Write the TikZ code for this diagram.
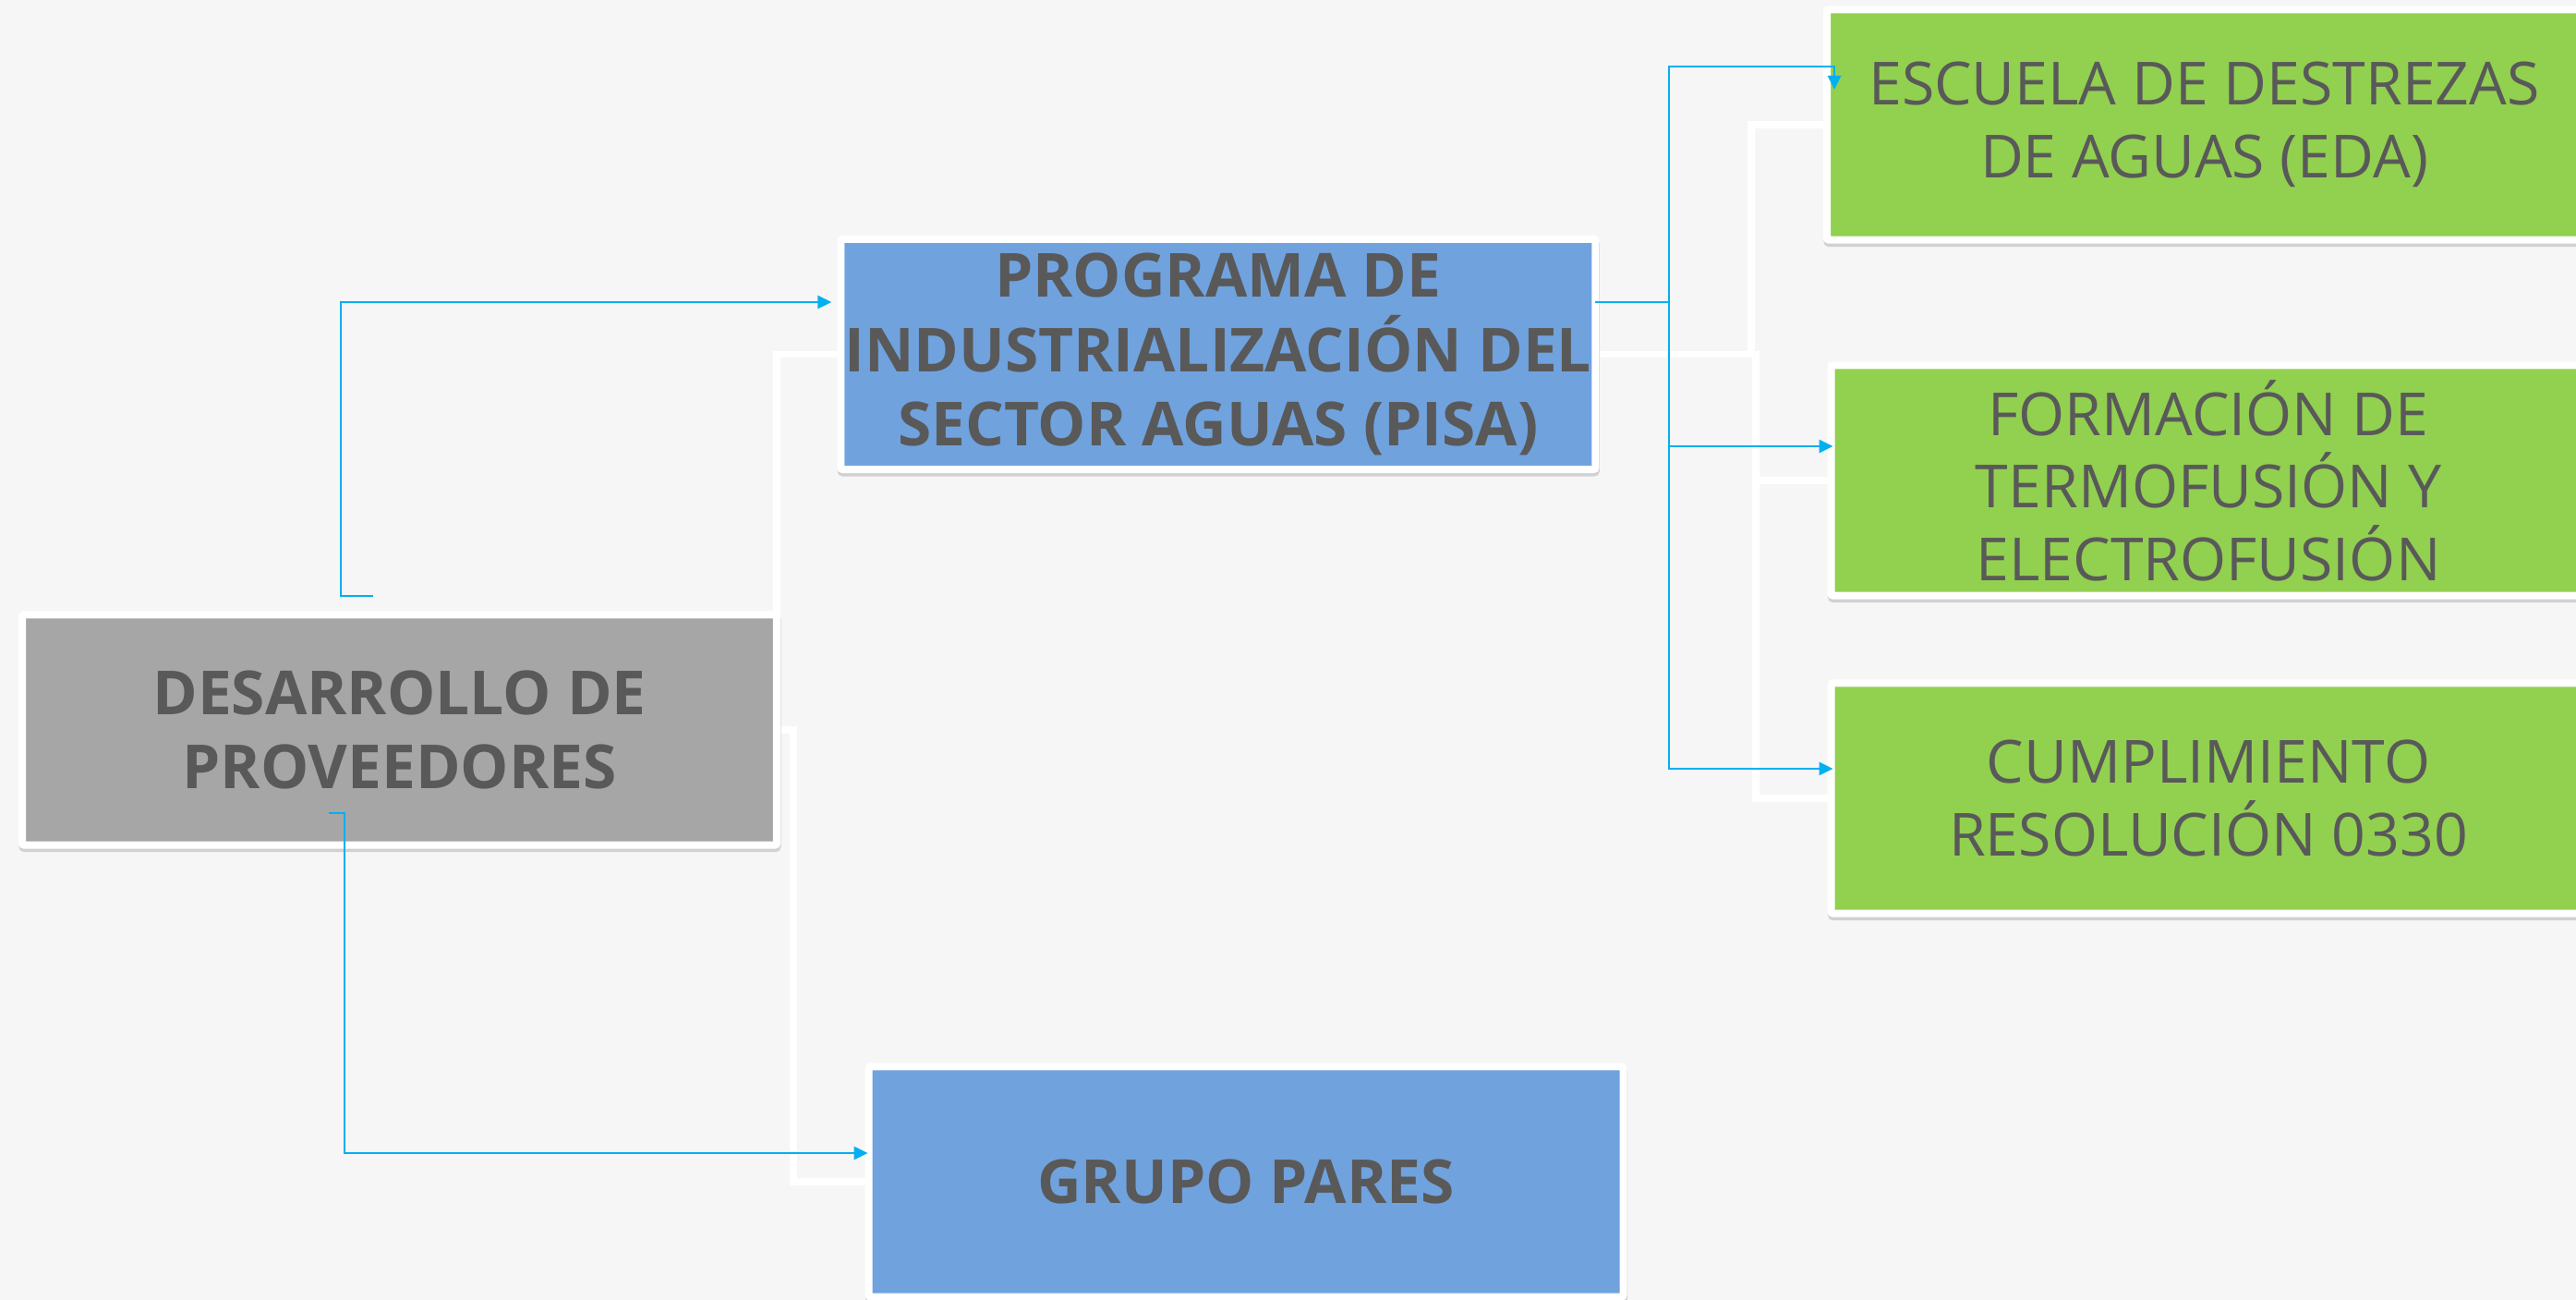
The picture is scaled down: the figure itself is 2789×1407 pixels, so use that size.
\documentclass[tikz,border=0pt]{standalone}
\usepackage{fontspec}
\setmainfont{Open Sans}
\usetikzlibrary{arrows.meta,shadows}
\definecolor{bgc}{HTML}{F6F6F6}
\definecolor{grayf}{HTML}{A6A6A6}
\definecolor{bluef}{HTML}{70A2DE}
\definecolor{greenf}{HTML}{92D050}
\definecolor{txt}{HTML}{595959}
\definecolor{connc}{HTML}{00B0F0}
\pgfdeclarelayer{bgfill}
\pgfdeclarelayer{wl}
\pgfsetlayers{bgfill,wl,main}
\begin{document}
\begin{tikzpicture}[x=0.01cm,y=-0.01cm,
 box/.style={draw=white, line width=0.08cm, rounded corners=0.02cm, outer sep=0pt, inner sep=0pt,
   align=center, text=txt, minimum width=8.165cm, minimum height=2.49cm,
   general shadow={fill=black!18, draw=black!18, line width=0.08cm, shadow yshift=-0.035cm, shadow xshift=0.005cm}},
 boldtxt/.style={font=\fontsize{18.7}{22.8}\selectfont\bfseries},
 regtxt/.style={font=\fontsize{18.3}{22.3}\selectfont},
 wline/.style={draw=white, line width=0.075cm},
 cline/.style={draw=connc, line width=0.025cm, -{Triangle[length=0.15cm,width=0.14cm]}},
 cstub/.style={draw=connc, line width=0.025cm}
]
\useasboundingbox (0,0) rectangle (2789,1407);
\clip (0,0) rectangle (2789,1407);
\begin{pgfonlayer}{bgfill}
\fill[bgc] (0,0) rectangle (2789,1407);
\end{pgfonlayer}

\node[box, fill=grayf, boldtxt] (dev) at (432.5,790) {DESARROLLO DE\\PROVEEDORES};
\node[box, fill=bluef, boldtxt] (pisa) at (1318.75,383.5) {PROGRAMA DE\\INDUSTRIALIZACIÓN DEL\\SECTOR AGUAS (PISA)};
\node[box, fill=bluef, boldtxt] (grupo) at (1349,1279) {GRUPO PARES};
\node[box, fill=greenf, regtxt] (eda) at (2386.5,135) {ESCUELA DE DESTREZAS\\DE AGUAS (EDA)};
\node[box, fill=greenf, regtxt] (form) at (2391,520) {FORMACIÓN DE\\TERMOFUSIÓN Y\\ELECTROFUSIÓN};
\node[box, fill=greenf, regtxt] (cump) at (2391,864) {CUMPLIMIENTO\\RESOLUCIÓN 0330};

% white background connectors
\coordinate (wb1) at (1896,383.5);
\coordinate (wb2) at (1901,383.5);
\begin{pgfonlayer}{wl}
\draw[wline] (dev.north east) |- (pisa.west);
\draw[wline] (dev.east) -- ++(18,0) |- (grupo.west);
\draw[wline] (pisa.east) -- (wb1) |- (eda.west);
\draw[wline] (pisa.east) -- (wb2) |- (form.west);
\draw[wline] (pisa.east) -- (wb2) |- (cump.west);
\end{pgfonlayer}

% blue connectors
\coordinate (s1) at (404,645);
\coordinate (s2) at (356,880);
\coordinate (k1) at (0,327);
\coordinate (k2) at (0,1248);
\coordinate (b) at (1807,327);
\coordinate (bt) at (1807,72);
\coordinate (t1) at (1986,97);
\coordinate (k4) at (0,483);
\coordinate (k5) at (0,832);
\draw[cline, shorten >=0.1cm] (s1) -- (369,645) |- (pisa.west |- k1);
\draw[cline, shorten >=0.01cm] (s2) -- (373,880) |- (grupo.west |- k2);
\draw[cstub] (pisa.east |- b) -- (b);
\draw[cline] (b) -- (bt) -| (t1);
\draw[cline, shorten >=-0.02cm] (b) |- (form.west |- k4);
\draw[cline, shorten >=-0.02cm] (b) |- (cump.west |- k5);
\end{tikzpicture}
\end{document}
